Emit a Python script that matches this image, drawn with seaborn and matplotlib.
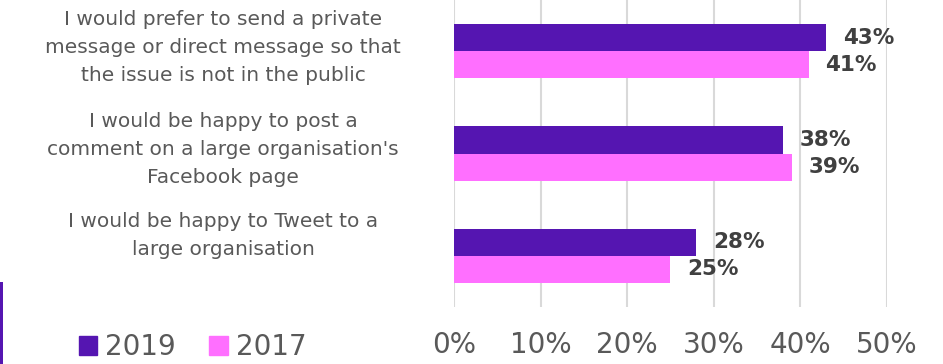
import matplotlib
matplotlib.use("Agg")
import matplotlib.pyplot as plt
import seaborn as sns
import pandas as pd
from matplotlib.patches import Rectangle

# ---- data ----
categories = [
    "I would prefer to send a private\nmessage or direct message so that\nthe issue is not in the public",
    "I would be happy to post a\ncomment on a large organisation's\nFacebook page",
    "I would be happy to Tweet to a\nlarge organisation",
]
series = ["2019", "2017"]
values_2019 = [43, 38, 28]
values_2017 = [41, 39, 25]
xticks = [0, 10, 20, 30, 40, 50]
xtick_labels = ["0%", "10%", "20%", "30%", "40%", "50%"]

colors = {"2019": "#5515B1", "2017": "#FF6FFF"}

df = pd.DataFrame({
    "category": categories * 2,
    "year": [series[0]] * 3 + [series[1]] * 3,
    "value": values_2019 + values_2017,
})

sns.set_theme(style="white")
plt.rcParams["font.family"] = ["DejaVu Sans"]

W, H = 943, 364
fig = plt.figure(figsize=(W / 100, H / 100), dpi=100)
ax = fig.add_axes([454 / W, 57 / H, (886.7 - 454) / W, 307 / H])

sns.barplot(data=df, y="category", x="value", hue="year", order=categories,
            hue_order=series, palette=colors, orient="h", width=0.53,
            saturation=1, legend=False, linewidth=0, ax=ax)

ax.set_xlim(0, 50)
ax.set_ylim(2.5, -0.5)
ax.set_xticks(xticks)
ax.set_xticklabels(xtick_labels)
ax.set_yticks([])
ax.set_xlabel("")
ax.set_ylabel("")
for s in ax.spines.values():
    s.set_visible(False)
ax.xaxis.grid(True, color="#D9D9D9", linewidth=1.5)
ax.set_axisbelow(True)
ax.tick_params(axis="x", length=0, pad=17, labelsize=20, labelcolor="#595959")

# data labels
for cont in ax.containers:
    vals = [p.get_width() for p in cont]
    ax.bar_label(cont, labels=[f"{v:.0f}%" for v in vals], padding=12,
                 fontsize=15.5, fontweight="bold", color="#404040")

# category labels (left side, centered)
label_offsets = [-0.04, -0.04, -0.20]
trans = matplotlib.transforms.blended_transform_factory(fig.transFigure, ax.transData)
for i, cat in enumerate(categories):
    ax.text(223 / W, i + label_offsets[i], cat, transform=trans, ha="center",
            va="center", fontsize=14.5, color="#595959", linespacing=1.6)

# legend
handles = [Rectangle((0, 0), 1, 1, color=colors[s]) for s in series]
fig.legend(handles, series, loc="center left", bbox_to_anchor=(79 / W, 17 / H),
           ncol=2, frameon=False, fontsize=20, handlelength=0.65, handleheight=0.65,
           handletextpad=0.3, columnspacing=1.2, borderpad=0, borderaxespad=0,
           labelcolor="#595959")

# purple accent bar at the left edge
fig.add_artist(Rectangle((0, 0), 3 / W, 82 / H, transform=fig.transFigure,
                         color="#5515B1", linewidth=0))

fig.savefig("out.png", dpi=100)
